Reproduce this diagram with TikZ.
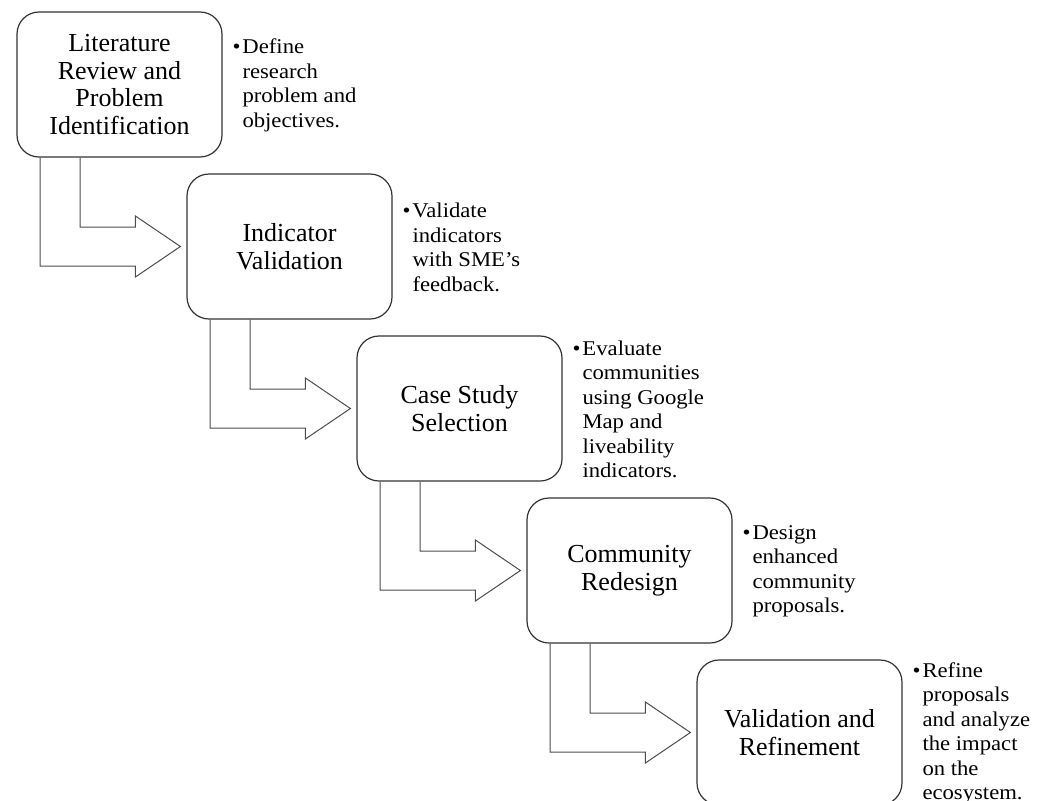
\documentclass[tikz,border=0pt]{standalone}
\usepackage{fontspec}
\setmainfont{Liberation Serif}
\newfontfamily\notefont[FakeStretch=1.08]{Liberation Serif}
\usetikzlibrary{calc}
\tikzset{
  stagebox/.style={draw=black!80, line width=1.2pt, rounded corners=22pt,
    minimum width=205pt, minimum height=145pt, inner sep=0pt, align=center,
    text=black, font=\fontsize{26}{27.7}\selectfont},
  notetext/.style={anchor=west, inner sep=0pt, align=left, text=black,
    font=\notefont\fontsize{21}{24.5}\selectfont},
  bentarrow/.style={draw=black!70, line width=1pt, line join=miter}
}
\newcommand{\bul}{\llap{\textbullet\hspace{2pt}}}
\begin{document}
\begin{tikzpicture}[x=1pt,y=-1pt]
\useasboundingbox (0,0) rectangle (1045,801);
% stage boxes
\node[stagebox] (b1) at (119.5,84.5) {Literature\\Review and\\Problem\\Identification};
\node[stagebox] (b2) at (289.5,246.5) {Indicator\\Validation};
\node[stagebox] (b3) at (459.5,408.5) {Case Study\\Selection};
\node[stagebox] (b4) at (629.5,570.5) {Community\\Redesign};
\node[stagebox] (b5) at (799.5,732.5) {Validation and\\Refinement};
% notes
\node[notetext] (n1) at ($(b1.east)+(19.7,1)$) {\bul Define\\research\\problem and\\objectives.};
\node[notetext] (n2) at ($(b2.east)+(19.7,1)$) {\bul Validate\\indicators\\with SME’s\\feedback.};
\node[notetext] (n3) at ($(b3.east)+(19.7,1)$) {\bul Evaluate\\communities\\using Google\\Map and\\liveability\\indicators.};
\node[notetext] (n4) at ($(b4.east)+(19.7,1)$) {\bul Design\\enhanced\\community\\proposals.};
\node[notetext] (n5) at ($(b5.east)+(19.7,1)$) {\bul Refine\\proposals\\and analyze\\the impact\\on the\\ecosystem.};
% bent arrows
\foreach \i/\j in {1/2,2/3,3/4,4/5}{
  \coordinate (tip\i) at ($(b\j.west)+(-6,0)$);
  \draw[bentarrow] ($(b\i.south west)+(23.7,0)$) |- ($(tip\i)+(-45,19.5)$)
     -- ++(0,11) -- (tip\i) -- ($(tip\i)+(-45,-30.5)$) -- ++(0,11)
     -| ($(b\i.south west)+(63.7,0)$);
}
\end{tikzpicture}
\end{document}
